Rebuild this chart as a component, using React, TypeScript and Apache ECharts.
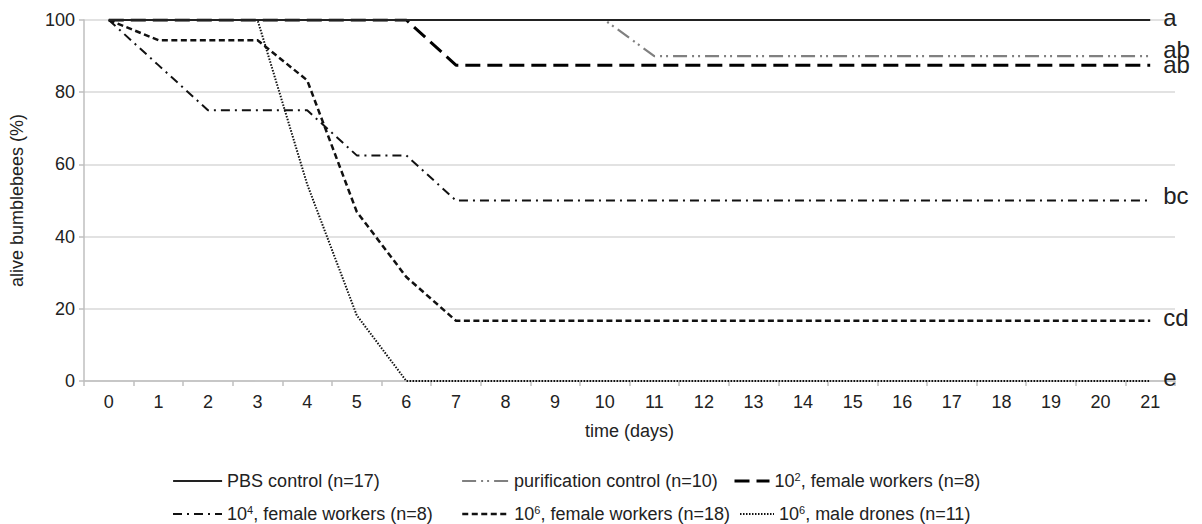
import React, { useEffect, useRef } from "react";
import * as echarts from "echarts";

const days = ["0","1","2","3","4","5","6","7","8","9","10","11","12","13","14","15","16","17","18","19","20","21"];

const seriesNames = [
  "PBS control (n=17)",
  "purification control (n=10)",
  "10², female workers (n=8)",
  "10⁴, female workers (n=8)",
  "10⁶, female workers (n=18)",
  "10⁶, male drones (n=11)",
];

// legend texts drawn with a real raised exponent (rich text)
const legendLabels = [
  "PBS control (n=17)",
  "purification control (n=10)",
  "10{sup|2}, female workers (n=8)",
  "10{sup|4}, female workers (n=8)",
  "10{sup|6}, female workers (n=18)",
  "10{sup|6}, male drones (n=11)",
];

const pbsControl = [100,100,100,100,100,100,100,100,100,100,100,100,100,100,100,100,100,100,100,100,100,100];
const purificationControl = [100,100,100,100,100,100,100,100,100,100,100,90,90,90,90,90,90,90,90,90,90,90];
const femaleWorkers1e2 = [100,100,100,100,100,100,100,87.5,87.5,87.5,87.5,87.5,87.5,87.5,87.5,87.5,87.5,87.5,87.5,87.5,87.5,87.5];
const femaleWorkers1e4 = [100,87.5,75,75,75,62.5,62.5,50,50,50,50,50,50,50,50,50,50,50,50,50,50,50];
const femaleWorkers1e6 = [100,94.4,94.4,94.4,83.3,46.9,28.8,16.7,16.7,16.7,16.7,16.7,16.7,16.7,16.7,16.7,16.7,16.7,16.7,16.7,16.7,16.7];
const maleDrones1e6 = [100,100,100,100,54.5,18.2,0,0,0,0,0,0,0,0,0,0,0,0,0,0,0,0];

const groupLetters = ["a", "ab", "ab", "bc", "cd", "e"];

const FONT = "'Liberation Sans', Arial, sans-serif";

export default function App() {
  const ref = useRef<HTMLDivElement>(null);
  useEffect(() => {
    if (!ref.current) return;
    const chart = echarts.init(ref.current, null, { renderer: "svg" });

    const styles = [
      { color: "#222222", width: 2.2, type: "solid" as any, z: 10 },
      { color: "#808080", width: 2.2, type: [14, 5, 2, 4, 2, 5], z: 5 },
      { color: "#000000", width: 3, type: [15, 7], z: 4 },
      { color: "#111111", width: 2, type: [9, 5, 2, 5], z: 4 },
      { color: "#111111", width: 2.5, type: [6, 3.5], z: 4 },
      { color: "#111111", width: 2, type: [1.5, 1.5], z: 3 },
    ];
    const values = [pbsControl, purificationControl, femaleWorkers1e2, femaleWorkers1e4, femaleWorkers1e6, maleDrones1e6];
    const labelOffsets = [[0, -3], [0, -7], [0, -1], [0, -5], [0, -3], [0, -4]];

    const series = seriesNames.map((name, i) => ({
      name,
      type: "line",
      data: values[i],
      symbol: "none",
      z: styles[i].z,
      lineStyle: { color: styles[i].color, width: styles[i].width, type: styles[i].type },
      itemStyle: { color: styles[i].color },
      endLabel: {
        show: true,
        formatter: groupLetters[i],
        fontSize: 24,
        fontFamily: FONT,
        color: "#222",
        distance: 13,
        offset: labelOffsets[i],
      },
    }));

    const legendPos = [
      { left: 167, top: 466, w: 49 },
      { left: 456, top: 466, w: 47 },
      { left: 728, top: 466, w: 35 },
      { left: 167, top: 499, w: 49 },
      { left: 456, top: 499, w: 47 },
      { left: 734, top: 499, w: 34 },
    ];
    const legend = seriesNames.map((name, i) => ({
      left: legendPos[i].left,
      top: legendPos[i].top,
      itemWidth: legendPos[i].w,
      itemHeight: 14,
      selectedMode: false,
      formatter: () => legendLabels[i],
      textStyle: {
        fontSize: 18,
        fontFamily: FONT,
        color: "#222",
        lineHeight: 20,
        rich: {
          sup: { fontSize: 11, fontFamily: FONT, color: "#222", verticalAlign: "top", lineHeight: 20, padding: [0, 0, 6, 0] },
        },
      },
      data: [
        {
          name,
          itemStyle: { opacity: 0 },
          lineStyle: { color: styles[i].color, width: styles[i].width, type: styles[i].type },
        },
      ],
    }));

    chart.setOption({
      animation: false,
      backgroundColor: "#ffffff",
      grid: { left: 83, right: 27, top: 20, bottom: 143, containLabel: false },
      legend,
      xAxis: {
        type: "category",
        data: days,
        boundaryGap: true,
        name: "time (days)",
        nameLocation: "middle",
        nameGap: 41,
        nameTextStyle: { fontSize: 18, fontFamily: FONT, color: "#222" },
        axisLine: { show: true, lineStyle: { color: "#bfbfbf", width: 1.5 } },
        axisTick: { show: true, interval: 0, length: 5, lineStyle: { color: "#bfbfbf", width: 1.5 } },
        axisLabel: { interval: 0, fontSize: 18, fontFamily: FONT, color: "#222", margin: 12 },
        splitLine: { show: false },
      },
      yAxis: {
        type: "value",
        min: 0,
        max: 100,
        interval: 20,
        name: "alive bumblebees (%)",
        nameLocation: "middle",
        nameGap: 58,
        nameTextStyle: { fontSize: 18, fontFamily: FONT, color: "#222" },
        axisLine: { show: true, lineStyle: { color: "#bfbfbf", width: 1.5 } },
        axisTick: { show: true, length: 5, lineStyle: { color: "#bfbfbf", width: 1.5 } },
        axisLabel: { fontSize: 18, fontFamily: FONT, color: "#222", margin: 9 },
        splitLine: { show: true, lineStyle: { color: "#d9d9d9", width: 1.5 } },
      },
      series,
    });

    return () => chart.dispose();
  }, []);

  return (
    <div
      ref={ref}
      style={{ position: "fixed", left: 0, top: 0, width: 1202, height: 524, background: "#fff" }}
    />
  );
}
